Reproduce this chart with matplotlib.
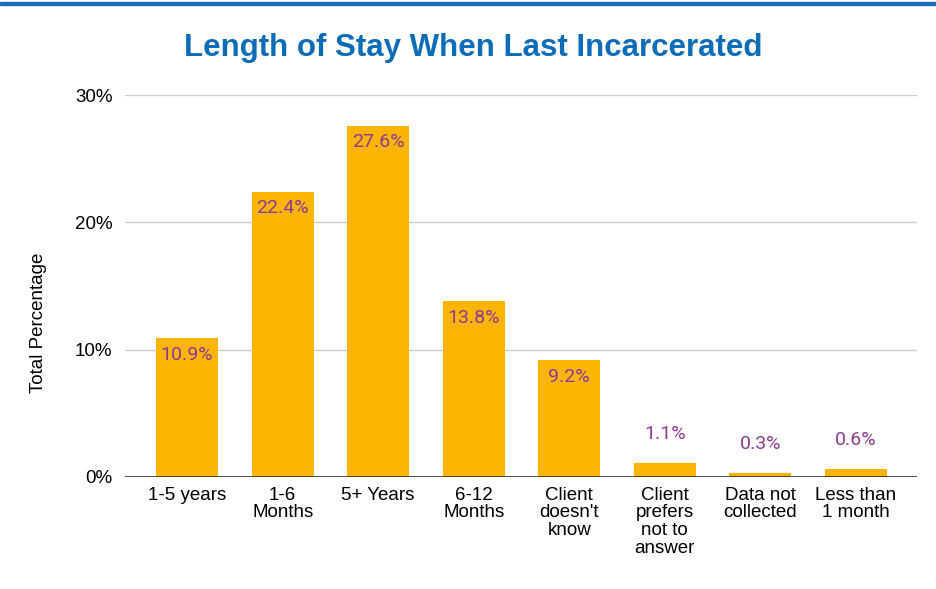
import matplotlib.pyplot as plt
from matplotlib.patches import Rectangle
from matplotlib.ticker import FuncFormatter

categories = ['1-5 years', '1-6\nMonths', '5+ Years', '6-12\nMonths', 'Client\ndoesn\'t\nknow',
              'Client\nprefers\nnot to\nanswer', 'Data not\ncollected', 'Less than\n1 month']
values = [10.9, 22.4, 27.6, 13.8, 9.2, 1.1, 0.3, 0.6]
yticks = [0, 10, 20, 30]

bar_color = '#fbb400'
label_color = '#8e3b95'
title_color = '#0b6cb8'

fig = plt.figure(figsize=(9.37, 5.89), dpi=100)
ax = fig.add_axes([0.1334, 0.1902, 0.8453, 0.6485])

x = range(len(values))
ax.bar(x, values, width=0.65, color=bar_color, zorder=3)

for i, v in enumerate(values):
    if v > 5:
        ax.annotate(f'{v}%', (i, v), xytext=(0, -12), textcoords='offset points',
                    ha='center', va='center', color=label_color, fontsize=14, family='Roboto', zorder=4)
    else:
        ax.annotate(f'{v}%', (i, v), xytext=(0, 21), textcoords='offset points',
                    ha='center', va='center', color=label_color, fontsize=14, family='Roboto', zorder=4)

ax.set_xlim(-0.65, 7.64)
ax.set_ylim(0, 30)
ax.set_yticks(yticks)
ax.yaxis.set_major_formatter(FuncFormatter(lambda v, p: f'{int(v)}%'))
ax.set_xticks(list(x))
ax.set_xticklabels(categories, family='Liberation Sans', fontsize=13.5, linespacing=1.05, va='top')
for lab in ax.get_yticklabels():
    lab.set_family('Liberation Sans')
    lab.set_fontsize(13.5)
ax.tick_params(axis='x', length=0, pad=7)
ax.tick_params(axis='y', length=0, pad=9)
ax.grid(axis='y', color='#cccccc', linewidth=1, zorder=0)
for s in ax.spines.values():
    s.set_visible(False)
ax.axhline(0, color='#333333', linewidth=1.2, zorder=5)

fig.text(0.0406, 0.4516, 'Total Percentage', rotation=90, ha='center', va='center',
         family='Liberation Sans', fontsize=13.5)

fig.text(0.505, 0.918, 'Length of Stay When Last Incarcerated', ha='center', va='center',
         color=title_color, fontsize=22.5, fontweight='bold', family='Liberation Sans')

# blue rule along the top edge
fig.patches.append(Rectangle((0, 0.991), 1, 0.005, transform=fig.transFigure,
                             color='#1a6fb8', figure=fig))

fig.savefig('out.png', dpi=100)
